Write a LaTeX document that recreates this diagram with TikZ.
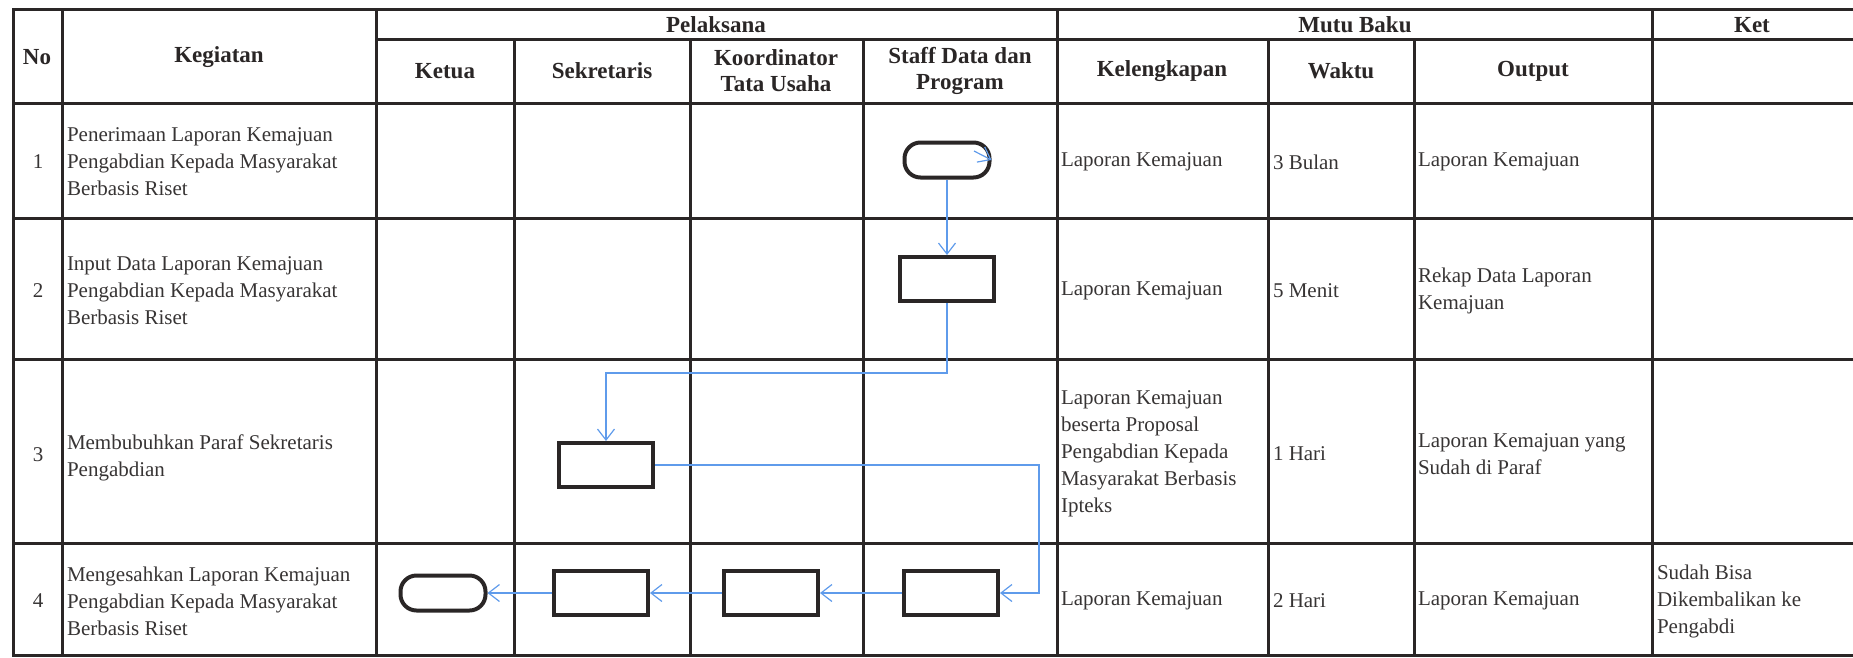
\documentclass[tikz,border=0pt]{standalone}
\usepackage{fontspec}
\setmainfont{Liberation Serif}
\usepackage{tikz}
\usetikzlibrary{arrows.meta}
\definecolor{ink}{RGB}{42,38,38}
\definecolor{textgray}{RGB}{55,52,52}
\definecolor{flowblue}{RGB}{95,155,235}
\tikzstyle{base}=[x=1pt, y=-1pt, inner sep=0pt, outer sep=0pt]
\tikzstyle{rule}=[draw=ink, line width=3pt, line cap=rect]
\tikzstyle{head}=[align=center, text=ink, font=\bfseries\fontsize{23}{26}\selectfont]
\tikzstyle{cell}=[anchor=west, align=left, text=textgray, font=\fontsize{21}{27}\selectfont]
\tikzstyle{num}=[text=textgray, font=\fontsize{21}{27}\selectfont]
\tikzstyle{term}=[draw=ink, line width=4pt, outer sep=2pt, rounded corners=16pt, minimum width=85pt, minimum height=35pt]
\tikzstyle{proc}=[draw=ink, line width=4pt, outer sep=2pt, minimum width=94pt, minimum height=44pt]
\tikzstyle{flow}=[draw=flowblue, line width=1.2pt, -{Straight Barb[length=11pt, width=17pt]}]

\begin{document}
\begin{tikzpicture}[base]
    \useasboundingbox (0,0) rectangle (1853,657);
        \foreach \x in {13,62,376,1057,1652}
            \draw [rule] (\x,9) -- (\x,655);
        \foreach \x in {514,690,863,1268,1414}
            \draw [rule] (\x,39) -- (\x,655);
        \foreach \y in {9,103,218,359,543,655}
            \draw [rule] (13,\y) -- (1853,\y);
        \draw [rule] (376,39) -- (1853,39);

        \node [head] (hNo) at (37,57) {No};
        \node [head] (hKeg) at (219,57) {Kegiatan};
        \node [head] (hPel) at (716,25) {Pelaksana};
        \node [head] (hMutu) at (1355,25) {Mutu Baku};
        \node [head] (hKet) at (1752,25) {Ket};
        \node [head] (hKetua) at (445,71) {Ketua};
        \node [head] (hSekr) at (602,71) {Sekretaris};
        \node [head] (hKoord) at (776,71) {Koordinator\\Tata Usaha};
        \node [head] (hStaff) at (960,71) {Staff Data dan\\Program};
        \node [head] (hKel) at (1162,71) {Kelengkapan};
        \node [head] (hWaktu) at (1341,71) {Waktu};
        \node [head] (hOut) at (1533,71) {Output};

        \node [num] (n1) at (38,162) {1};
        \node [num] (n2) at (38,291) {2};
        \node [num] (n3) at (38,455) {3};
        \node [num] (n4) at (38,601) {4};

        \node [cell] (act1) at (67,162) {Penerimaan Laporan Kemajuan\\Pengabdian Kepada Masyarakat\\Berbasis Riset};
        \node [cell] (act2) at (67,291) {Input Data Laporan Kemajuan\\Pengabdian Kepada Masyarakat\\Berbasis Riset};
        \node [cell] (act3) at (67,458) {Membubuhkan Paraf Sekretaris\\Pengabdian};
        \node [cell] (act4) at (67,601) {Mengesahkan Laporan Kemajuan\\Pengabdian Kepada Masyarakat\\Berbasis Riset};

        \node [cell] (kel1) at (1061,162) {Laporan Kemajuan};
        \node [cell] (kel2) at (1061,291) {Laporan Kemajuan};
        \node [cell] (kel3) at (1061,454) {Laporan Kemajuan\\beserta Proposal\\Pengabdian Kepada\\Masyarakat Berbasis\\Ipteks};
        \node [cell] (kel4) at (1061,601) {Laporan Kemajuan};

        \node [cell] (wkt1) at (1273,162) {3 Bulan};
        \node [cell] (wkt2) at (1273,291) {5 Menit};
        \node [cell] (wkt3) at (1273,454) {1 Hari};
        \node [cell] (wkt4) at (1273,601) {2 Hari};

        \node [cell] (out1) at (1418,162) {Laporan Kemajuan};
        \node [cell] (out2) at (1418,291) {Rekap Data Laporan\\Kemajuan};
        \node [cell] (out3) at (1418,454) {Laporan Kemajuan yang\\Sudah di Paraf};
        \node [cell] (out4) at (1418,601) {Laporan Kemajuan};

        \node [cell] (ket4) at (1657,601) {Sudah Bisa\\Dikembalikan ke\\Pengabdi};

        \node [term] (start) at (947,160) {};
        \node [proc] (input) at (947,279) {};
        \node [proc] (paraf) at (606,465) {};
        \node [proc] (staff) at (951,593) {};
        \node [proc] (koord) at (771,593) {};
        \node [proc] (sekr) at (601,593) {};
        \node [term] (finish) at (443,593) {};

        \coordinate (stub) at (974,151);
        \coordinate (turnA) at (947,373);
        \coordinate (turnB) at (1039,465);
        \draw [flow] (stub) -- (start.east);
        \draw [flow] (start) -- (input);
        \draw [flow] (input) -- (turnA) -| (paraf);
        \draw [flow] (paraf) -- (turnB) |- (staff);
        \draw [flow] (staff) -- (koord);
        \draw [flow] (koord) -- (sekr);
        \draw [flow] (sekr) -- (finish);
    \end{tikzpicture}
\end{document}
